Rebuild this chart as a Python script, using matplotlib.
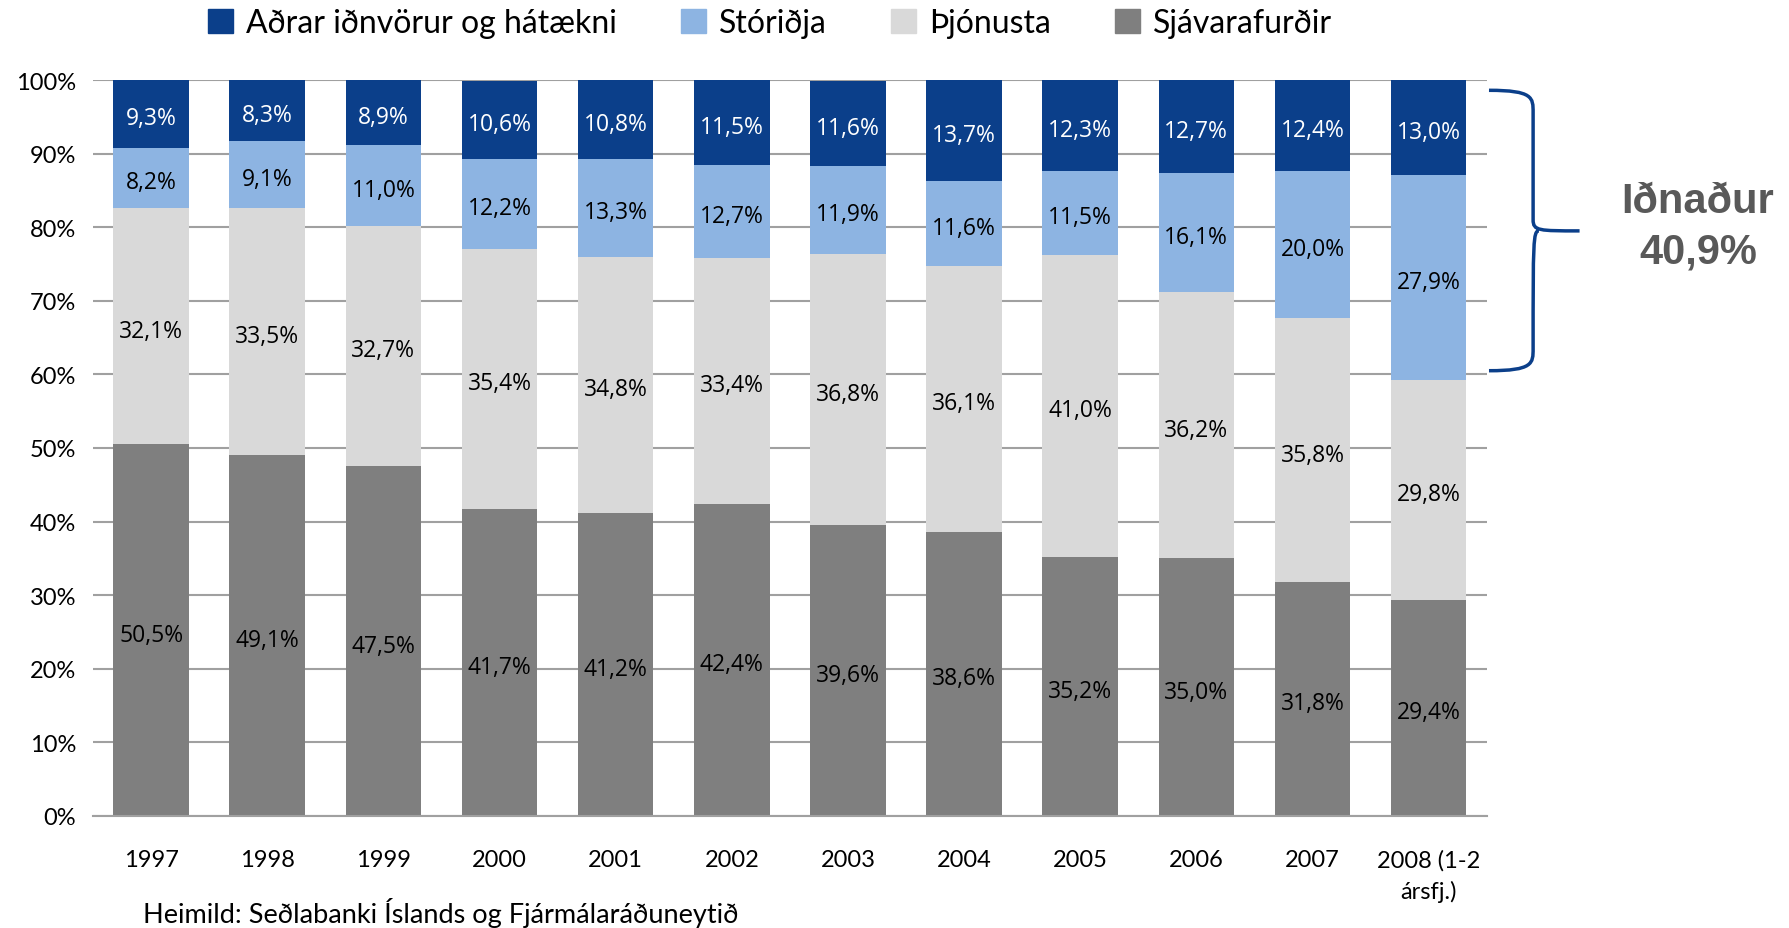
import numpy as np
import matplotlib.pyplot as plt
from matplotlib.path import Path
from matplotlib.patches import PathPatch, Patch

years = ['1997', '1998', '1999', '2000', '2001', '2002', '2003',
         '2004', '2005', '2006', '2007', '2008 (1-2\nársfj.)']
sjavar = [50.5, 49.1, 47.5, 41.7, 41.2, 42.4, 39.6, 38.6, 35.2, 35.0, 31.8, 29.4]
thjon = [32.1, 33.5, 32.7, 35.4, 34.8, 33.4, 36.8, 36.1, 41.0, 36.2, 35.8, 29.8]
storidja = [8.2, 9.1, 11.0, 12.2, 13.3, 12.7, 11.9, 11.6, 11.5, 16.1, 20.0, 27.9]
adrar = [9.3, 8.3, 8.9, 10.6, 10.8, 11.5, 11.6, 13.7, 12.3, 12.7, 12.4, 13.0]
series_names = ['Aðrar iðnvörur og hátækni', 'Stóriðja', 'Þjónusta', 'Sjávarafurðir']

c_adrar = '#0b3f8a'
c_stor = '#8db4e2'
c_thjon = '#d9d9d9'
c_sjav = '#7f7f7f'

lab_font = ['Open Sans', 'DejaVu Sans']
txt_font = ['Lato', 'DejaVu Sans']

fig = plt.figure(figsize=(17.89, 9.29), dpi=100)
ax = fig.add_axes([0.052, 0.1206, 0.779, 0.7922])

x = np.arange(len(years))
w = 0.65
stack = [(sjavar, c_sjav, 'black'), (thjon, c_thjon, 'black'),
         (storidja, c_stor, 'black'), (adrar, c_adrar, 'white')]
bottom = np.zeros(len(years))
for vals, col, tcol in stack:
    vals = np.array(vals)
    ax.bar(x, vals, w, bottom=bottom, color=col, zorder=2)
    for xi, b, v in zip(x, bottom, vals):
        yc = min(b + v / 2, (b + 100) / 2) - 0.6
        ax.text(xi, yc, f'{v:.1f}%'.replace('.', ','), ha='center', va='center',
                color=tcol, fontsize=16.5, family=lab_font, zorder=3)
    bottom = bottom + vals

ax.set_xlim(-0.5, len(years) - 0.5)
ax.set_ylim(0, 100)
ax.set_yticks(np.arange(0, 101, 10))
ax.set_yticklabels([f'{v}%' for v in range(0, 101, 10)], family=txt_font, fontsize=17)
ax.set_xticks(x)
ax.set_xticklabels(years, family=txt_font, fontsize=17, linespacing=1.5, va='top')
ax.tick_params(axis='both', length=0)
ax.tick_params(axis='x', pad=24)
ax.tick_params(axis='y', pad=12)
ax.grid(axis='y', color='#a0a0a0', linewidth=1.5, zorder=0)
for s in ['left', 'right', 'top']:
    ax.spines[s].set_visible(False)
ax.spines['bottom'].set_color('#a0a0a0')
ax.spines['bottom'].set_linewidth(1.5)

# legend
handles = [Patch(color=c) for c in [c_adrar, c_stor, c_thjon, c_sjav]]
fig.legend(handles, series_names, loc='center', ncol=4,
           bbox_to_anchor=(770 / 1789, 1 - 24 / 929), frameon=False,
           prop={'family': txt_font, 'size': 23}, handlelength=0.8,
           handleheight=0.8, handletextpad=0.4, columnspacing=2.0)

# brace on the right
x0, x1, xt = 11.52, 11.9, 12.3
y0, y1, ym = 98.6, 60.5, 79.5
verts = [(x0, y0), (x1, y0), (x1, y0 - 1), (x1, y0 - 3),
         (x1, ym + 1.5),
         (x1, ym), (x1 + 0.05, ym), (xt, ym),
         (x1 + 0.05, ym), (x1, ym), (x1, ym - 1.5),
         (x1, y1 + 3),
         (x1, y1 + 1), (x1, y1), (x0, y1)]
codes = [Path.MOVETO, Path.CURVE4, Path.CURVE4, Path.CURVE4,
         Path.LINETO,
         Path.CURVE4, Path.CURVE4, Path.CURVE4,
         Path.MOVETO, Path.CURVE4, Path.CURVE4,
         Path.LINETO,
         Path.CURVE4, Path.CURVE4, Path.CURVE4]
ax.add_patch(PathPatch(Path(verts, codes), facecolor='none', edgecolor=c_adrar,
                       linewidth=2.5, clip_on=False, zorder=4))

fig.text(1698 / 1789, 1 - 227 / 929, 'Iðnaður\n40,9%', ha='center', va='center',
         fontsize=30, fontweight='bold', color='#595959',
         family=['Liberation Sans', 'DejaVu Sans'], linespacing=1.35)

fig.text(143 / 1789, 1 - 913 / 929, 'Heimild: Seðlabanki Íslands og Fjármálaráðuneytið',
         ha='left', va='center', fontsize=19.5, family=txt_font)

fig.savefig('out.png', dpi=100)
